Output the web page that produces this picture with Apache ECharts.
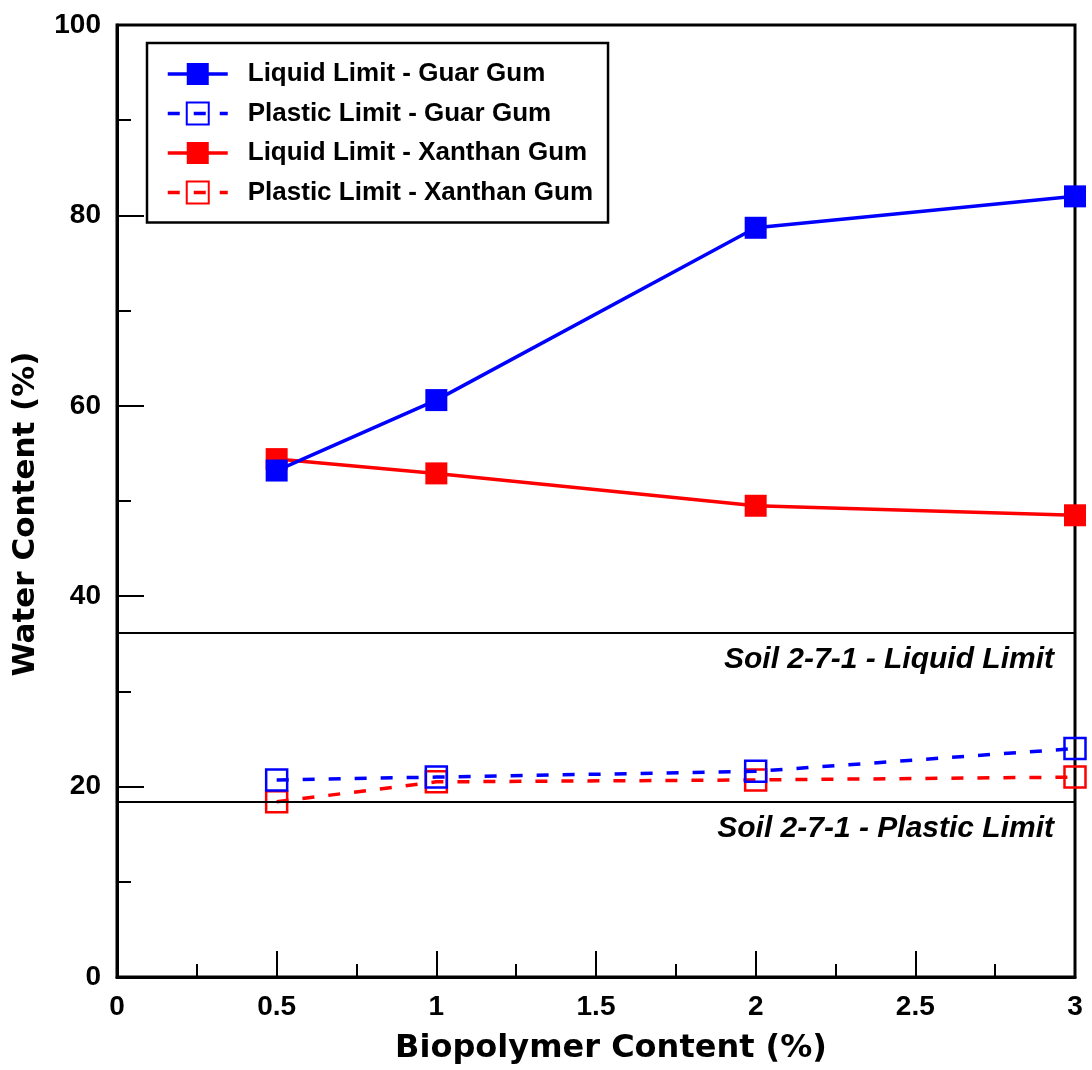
<!DOCTYPE html>
<html>
<head>
<meta charset="utf-8">
<script src="https://cdn.jsdelivr.net/npm/echarts@6/dist/echarts.min.js"></script>
<style>
html,body{margin:0;padding:0;background:#fff;overflow:hidden;}
#chart{width:1092px;height:1070px;}
</style>
</head>
<body>
<div id="chart"></div>
<script>
const biopolymer = [0.5, 1, 2, 3];
const llGuar = [53.2, 60.6, 78.7, 82.0];
const plGuar = [20.7, 21.0, 21.6, 24.0];
const llXanthan = [54.4, 52.9, 49.5, 48.5];
const plXanthan = [18.4, 20.5, 20.7, 21.0];
const soilLL = 36.2;
const soilPL = 18.4;
const seriesNames = ['Liquid Limit - Guar Gum', 'Plastic Limit - Guar Gum', 'Liquid Limit - Xanthan Gum', 'Plastic Limit - Xanthan Gum'];
const refLabels = ['Soil 2-7-1 - Liquid Limit', 'Soil 2-7-1 - Plastic Limit'];

const pairs = vals => biopolymer.map((x, i) => [x, vals[i]]);
const BLUE = '#0000ff', RED = '#ff0000';
const tickFont = {fontFamily: 'Liberation Sans', fontWeight: 'bold', fontSize: 28, color: '#000'};
const titleFont = {fontFamily: 'DejaVu Sans', fontWeight: 'bold', color: '#000'};

function solid(name, color, vals, z) {
  return {
    name, type: 'line', data: pairs(vals), z,
    symbol: 'rect', symbolSize: 22,
    itemStyle: {color: color},
    lineStyle: {color: color, width: 3.5, type: 'solid'},
    emphasis: {disabled: true}
  };
}
function dashed(name, color, vals, z) {
  return {
    name, type: 'line', data: pairs(vals), z,
    symbol: 'rect', symbolSize: 21,
    itemStyle: {color: 'rgba(255,255,255,0)', borderColor: color, borderWidth: 2.5},
    lineStyle: {color: color, width: 3.5, type: [12, 14]},
    emphasis: {disabled: true}
  };
}

const chart = echarts.init(document.getElementById('chart'), null, {renderer: 'canvas', width: 1092, height: 1070});
chart.setOption({
  animation: false,
  backgroundColor: '#fff',
  grid: {left: 117, right: 17, top: 25, bottom: 87, show: true, borderColor: '#000', borderWidth: 3, backgroundColor: 'transparent'},
  legend: {
    orient: 'vertical', left: 147, top: 43,
    data: seriesNames,
    itemWidth: 60, itemHeight: 27.5, itemGap: 13.5,
    padding: [18, 15, 17, 19],
    borderColor: '#000', borderWidth: 2.5, backgroundColor: '#fff',
    lineStyle: {width: 3.5},
    textStyle: {fontFamily: 'Liberation Sans', fontWeight: 'bold', fontSize: 26, color: '#000', padding: [0, 0, 0, 15]},
    selectedMode: false
  },
  xAxis: {
    type: 'value', min: 0, max: 3, interval: 0.5,
    name: 'Biopolymer Content (%)', nameLocation: 'middle', nameGap: 56,
    nameTextStyle: Object.assign({fontSize: 32, padding: [0, 0, 0, 30]}, titleFont),
    axisLine: {show: true, onZero: false, lineStyle: {color: '#000', width: 3}},
    axisTick: {show: true, inside: true, length: 26, lineStyle: {color: '#000', width: 2}},
    minorTick: {show: true, splitNumber: 2, length: 13, lineStyle: {color: '#000', width: 2}},
    splitLine: {show: false},
    axisLabel: Object.assign({margin: 16, formatter: v => String(v)}, tickFont)
  },
  yAxis: {
    type: 'value', min: 0, max: 100, interval: 20,
    name: 'Water Content (%)', nameLocation: 'middle', nameGap: 76, nameRotate: 90,
    nameTextStyle: Object.assign({fontSize: 31, padding: [0, 26, 0, 0]}, titleFont),
    axisLine: {show: true, onZero: false, lineStyle: {color: '#000', width: 3}},
    axisTick: {show: true, inside: true, length: 27, lineStyle: {color: '#000', width: 2}},
    minorTick: {show: true, splitNumber: 2, length: 14, lineStyle: {color: '#000', width: 2}},
    splitLine: {show: false},
    axisLabel: Object.assign({margin: 16}, tickFont)
  },
  series: [
    solid(seriesNames[0], BLUE, llGuar, 4),
    dashed(seriesNames[1], BLUE, plGuar, 4),
    solid(seriesNames[2], RED, llXanthan, 3),
    dashed(seriesNames[3], RED, plXanthan, 3),
    {
      name: 'ref', type: 'line', data: [], z: 2,
      markLine: {
        silent: true, symbol: 'none', animation: false,
        lineStyle: {color: '#000', width: 2, type: 'solid'},
        label: {
          show: true, position: 'insideEndBottom', distance: [21, 12],
          fontFamily: 'Liberation Sans', fontWeight: 'bold', fontStyle: 'italic', fontSize: 30, color: '#000'
        },
        data: [
          {yAxis: soilLL, label: {formatter: refLabels[0]}},
          {yAxis: soilPL, label: {formatter: refLabels[1]}}
        ]
      }
    }
  ]
});
</script>
</body>
</html>
